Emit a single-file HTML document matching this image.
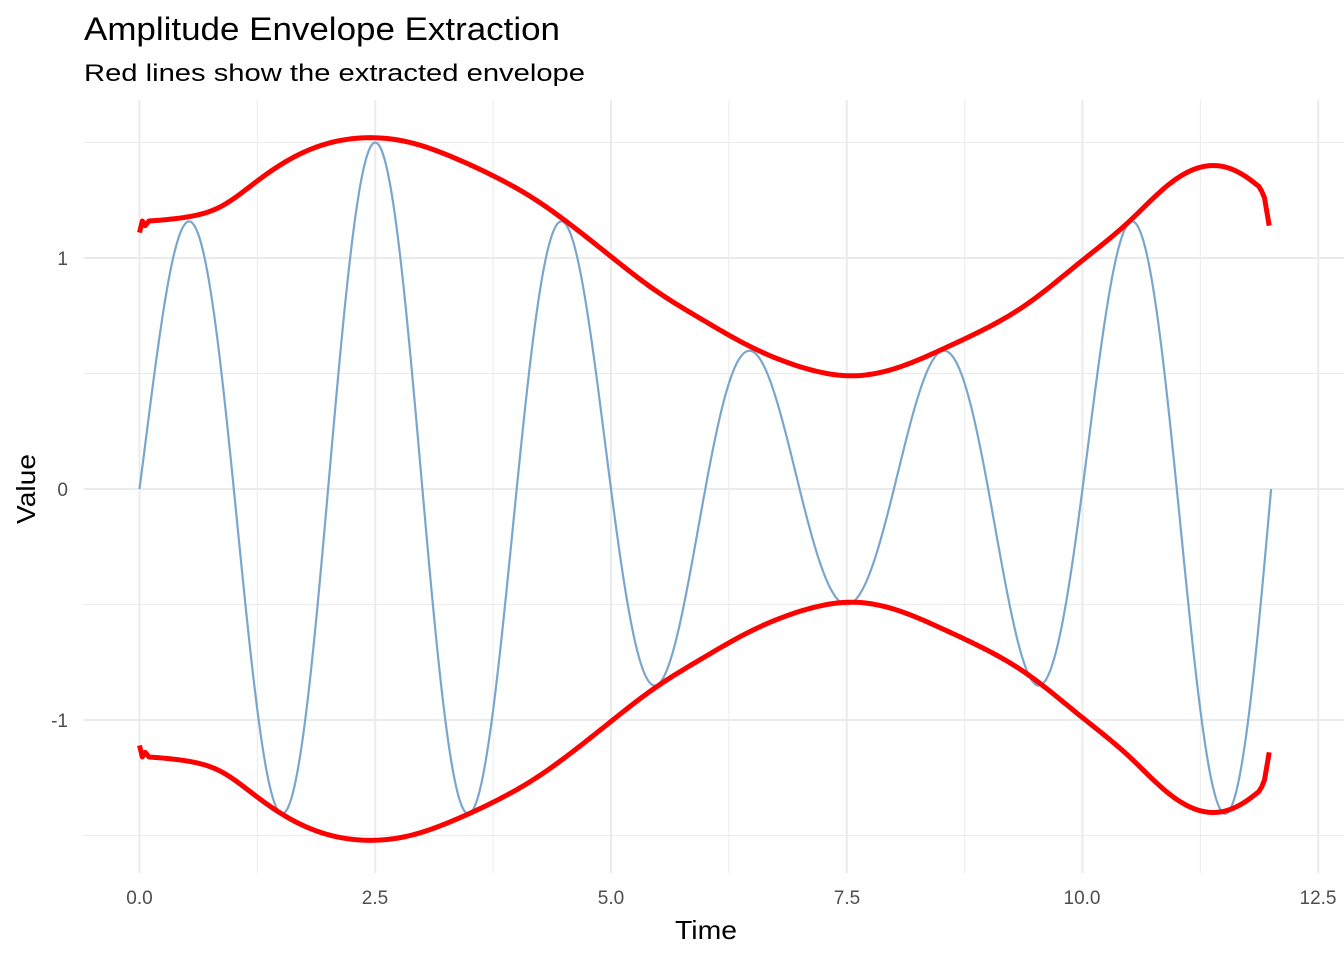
<!DOCTYPE html>
<html><head><meta charset="utf-8"><style>
html,body{margin:0;padding:0;background:#fff;}
svg{display:block;font-family:"Liberation Sans",sans-serif;}
</style></head><body>
<svg id="s" width="1344" height="960" xmlns="http://www.w3.org/2000/svg">
<text x="84" y="40" font-size="32" fill="#000" textLength="476" lengthAdjust="spacingAndGlyphs">Amplitude Envelope Extraction</text>
<text x="84" y="81" font-size="24" fill="#000" textLength="501" lengthAdjust="spacingAndGlyphs">Red lines show the extracted envelope</text>
<g id="grid"></g>
<g font-size="19" fill="#4d4d4d">
<text x="68" y="265" text-anchor="end">1</text>
<text x="68" y="496" text-anchor="end">0</text>
<text x="68" y="727" text-anchor="end">-1</text>
<text x="139.5" y="904" text-anchor="middle">0.0</text>
<text x="375" y="904" text-anchor="middle">2.5</text>
<text x="611" y="904" text-anchor="middle">5.0</text>
<text x="847" y="904" text-anchor="middle">7.5</text>
<text x="1082" y="904" text-anchor="middle">10.0</text>
<text x="1318" y="904" text-anchor="middle">12.5</text>
</g>
<text x="706" y="939" font-size="26" text-anchor="middle" textLength="62" lengthAdjust="spacingAndGlyphs">Time</text>
<text transform="translate(35,489) rotate(-90)" font-size="26" text-anchor="middle" textLength="70" lengthAdjust="spacingAndGlyphs">Value</text>
<path id="sig" fill="none" stroke="#7ba6cc" stroke-width="2.2"/>
<path id="up" fill="none" stroke="#ff0000" stroke-width="5" stroke-linejoin="round"/>
<path id="lo" fill="none" stroke="#ff0000" stroke-width="5" stroke-linejoin="round"/>
</svg>
<script>
const X=t=>139.5+t*94.3, Y=v=>489-v*231;
let g='';
for(let t=-1.25;t<=13.75;t+=1.25){const x=X(t);if(x<84||x>1344)continue;const maj=Math.abs(t/2.5-Math.round(t/2.5))<1e-6;
g+=`<line x1="${x}" x2="${x}" y1="100" y2="873" stroke="#ebebeb" stroke-width="${maj?2:1}"/>`;}
for(let v=-1.5;v<=1.5;v+=0.5){const y=Y(v);const maj=Number.isInteger(v);
g+=`<line x1="84" x2="1344" y1="${y}" y2="${y}" stroke="#ebebeb" stroke-width="${maj?2:1}"/>`;}
document.getElementById('grid').innerHTML=g;
const A=t=>1+0.5*Math.cos(2*Math.PI*(t-2.5)/10);
let s='';
for(let i=0;i<=1200;i++){const t=i*0.01;
s+=(i?'L':'M')+X(t).toFixed(2)+','+Y(A(t)*Math.sin(Math.PI*t)).toFixed(2);}
const head=[[0,1.11],[0.03,1.16],[0.06,1.14],[0.1,1.16]];
const tail=[[11.87,1.31],[11.9,1.29],[11.93,1.26],[11.98,1.14]];
const P=[[0.1,1.16],[0.54,1.18],[0.85,1.22],[1.27,1.34],[1.7,1.45],[2.36,1.52],[2.87,1.50],[3.3,1.44],[3.73,1.36],[4.17,1.26],[4.52,1.16],[5.05,0.99],[5.47,0.86],[5.94,0.74],[6.46,0.62],[7.0,0.53],[7.55,0.49],[8.0,0.52],[8.54,0.61],[9.0,0.70],[9.41,0.80],[9.97,0.98],[10.5,1.16],[10.92,1.32],[11.42,1.40],[11.74,1.35],[11.87,1.31]];
// natural cubic spline
const n=P.length,xs=P.map(p=>p[0]),ys=P.map(p=>p[1]);
const h=[],al=[],l=[1],mu=[0],z=[0],c=new Array(n).fill(0),b=[],d=[];
for(let i=0;i<n-1;i++)h[i]=xs[i+1]-xs[i];
for(let i=1;i<n-1;i++)al[i]=3/h[i]*(ys[i+1]-ys[i])-3/h[i-1]*(ys[i]-ys[i-1]);
for(let i=1;i<n-1;i++){l[i]=2*(xs[i+1]-xs[i-1])-h[i-1]*mu[i-1];mu[i]=h[i]/l[i];z[i]=(al[i]-h[i-1]*z[i-1])/l[i];}
l[n-1]=1;z[n-1]=0;
for(let j=n-2;j>=0;j--){c[j]=z[j]-mu[j]*c[j+1];b[j]=(ys[j+1]-ys[j])/h[j]-h[j]*(c[j+1]+2*c[j])/3;d[j]=(c[j+1]-c[j])/(3*h[j]);}
let pts=head.slice(0,-1);
for(let i=0;i<n-1;i++){for(let k=0;k<12;k++){const dt=h[i]*k/12;pts.push([xs[i]+dt,ys[i]+b[i]*dt+c[i]*dt*dt+d[i]*dt*dt*dt]);}}
pts=pts.concat(tail);
let u='',lo='';
pts.forEach((p,i)=>{const x=X(p[0]).toFixed(2);u+=(i?'L':'M')+x+','+Y(p[1]).toFixed(2);lo+=(i?'L':'M')+x+','+Y(-p[1]).toFixed(2);});
document.getElementById('sig').setAttribute('d',s);
document.getElementById('up').setAttribute('d',u);
document.getElementById('lo').setAttribute('d',lo);
</script>
</body></html>
